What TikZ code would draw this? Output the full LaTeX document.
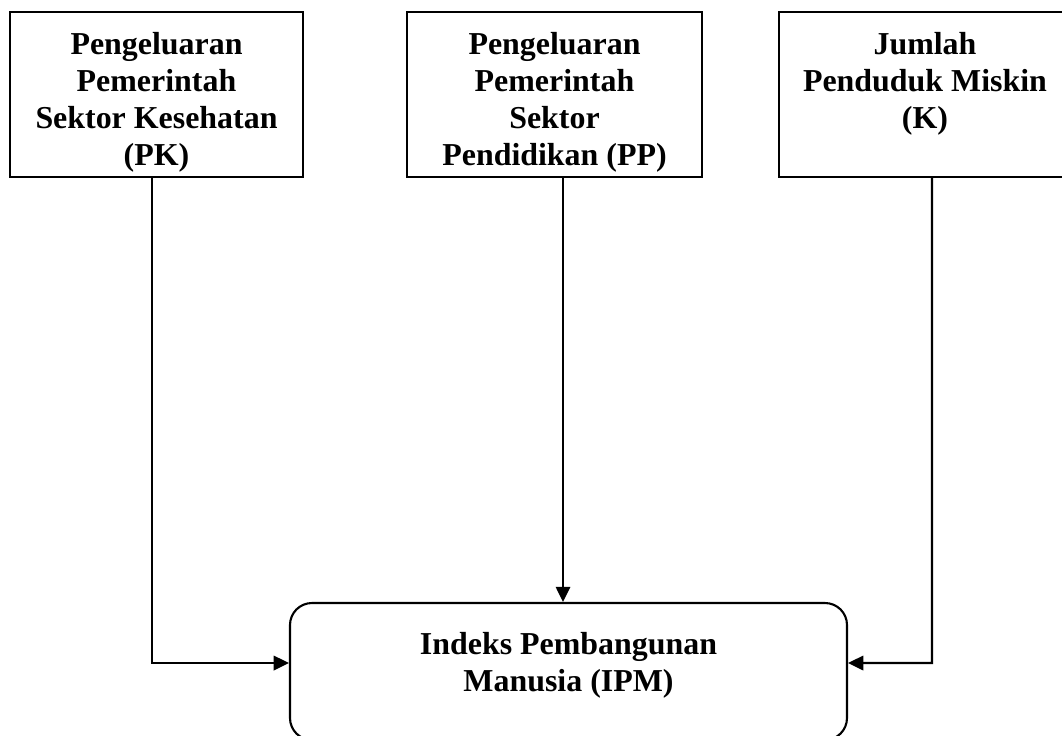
\documentclass[tikz,border=0pt]{standalone}
\usepackage{fontspec}
\setmainfont{Liberation Serif}
\usepackage{tikz}
\usetikzlibrary{arrows.meta, positioning, calc}

\begin{document}
\begin{tikzpicture}[
  varbox/.style={draw, line width=1.5pt, minimum height=4.125cm},
  ipmbox/.style={draw, line width=1.5pt, rounded corners=0.55cm, minimum width=13.925cm, minimum height=3.425cm},
  boxtext/.style={anchor=north, align=center, inner sep=2pt, font=\fontsize{22.7}{26.3}\selectfont\bfseries},
  flow/.style={line width=1.5pt, -{Triangle[length=0.38cm, width=0.36cm]}}
]
  \useasboundingbox (0,0) rectangle (26.55,-18.375);
  % independent variables
  \node[varbox, minimum width=7.325cm] (pk) at (3.9125,-2.3625) {};
  \node[boxtext] (pktext) at ([yshift=-0.46cm]pk.north) {
    Pengeluaran\\
    Pemerintah\\
    Sektor Kesehatan\\
    (PK)
  };
  \node[varbox, minimum width=7.375cm] (pp) at (13.8625,-2.3625) {};
  \node[boxtext] (pptext) at ([yshift=-0.46cm]pp.north) {
    Pengeluaran\\
    Pemerintah\\
    Sektor\\
    Pendidikan (PP)
  };
  \node[varbox, minimum width=7.3cm] (k) at (23.125,-2.3625) {};
  \node[boxtext] (ktext) at ([yshift=-0.46cm]k.north) {
    Jumlah\\
    Penduduk Miskin\\
    (K)
  };
  % dependent variable
  \node[ipmbox] (ipm) at (14.2125,-16.7875) {};
  \node[boxtext] (ipmtext) at ([yshift=-0.68cm]ipm.north) {
    Indeks Pembangunan\\
    Manusia (IPM)
  };
  \coordinate (pkturn) at (3.8,-16.575);
  \coordinate (kturn) at (23.3,-16.575);
  \draw[flow] ([xshift=-0.1125cm]pk.south) -- (pkturn) -- (pkturn -| ipm.west);
  \draw[flow] ([xshift=0.2125cm]pp.south) -- ([xshift=0.2125cm]pp.south |- ipm.north);
  \draw[flow] ([xshift=0.175cm]k.south) -- (kturn) -- (kturn -| ipm.east);
\end{tikzpicture}
\end{document}
